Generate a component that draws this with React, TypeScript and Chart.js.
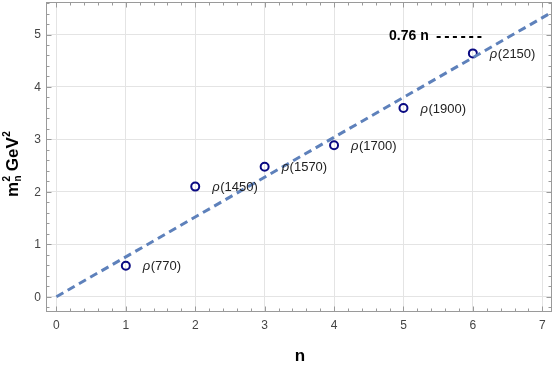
import React, { useEffect, useRef } from "react";
import { Chart, registerables } from "chart.js";
Chart.register(...registerables);

// ---- data ----
const stateN = [1, 2, 3, 4, 5, 6];
const massSq = [0.59, 2.1, 2.48, 2.89, 3.6, 4.64];
const stateLabels = ["770", "1450", "1570", "1700", "1900", "2150"];
const fitN = [0, 7.3];
const fitM = [0, 5.548];
const xTicks = [0, 1, 2, 3, 4, 5, 6, 7];
const yTicks = [0, 1, 2, 3, 4, 5];
const fitLabel = "0.76 n";
const fitDashes = "------";
const xTitle = "n";

const FONT = "'Liberation Sans', Arial, sans-serif";
const FRAME = "#9a9a9a";

const decorPlugin = {
  id: "decor",
  afterDraw(chart: any) {
    const ctx = chart.ctx;
    const { left, right, top, bottom } = chart.chartArea;
    const xs = chart.scales.x;
    const ys = chart.scales.y;
    ctx.save();
    // frame
    ctx.strokeStyle = FRAME;
    ctx.lineWidth = 1;
    ctx.strokeRect(Math.round(left) + 0.5, Math.round(top) + 0.5, Math.round(right - left) - 1, Math.round(bottom - top) - 1);
    // ticks
    ctx.beginPath();
    const bx = Math.round(bottom) - 0.5;
    const tx = Math.round(top) + 0.5;
    for (let k = Math.ceil(xs.min * 5); k <= Math.floor(xs.max * 5); k++) {
      const v = k / 5;
      const len = k % 5 === 0 ? 5 : 3;
      const px = Math.round(xs.getPixelForValue(v)) + 0.5;
      ctx.moveTo(px, bx);
      ctx.lineTo(px, bx - len);
      ctx.moveTo(px, tx);
      ctx.lineTo(px, tx + len);
    }
    const lx = Math.round(left) + 0.5;
    const rx = Math.round(right) - 0.5;
    for (let k = Math.ceil(ys.min * 5); k <= Math.floor(ys.max * 5); k++) {
      const v = k / 5;
      const len = k % 5 === 0 ? 5 : 3;
      const py = Math.round(ys.getPixelForValue(v)) + 0.5;
      ctx.moveTo(lx, py);
      ctx.lineTo(lx + len, py);
      ctx.moveTo(rx, py);
      ctx.lineTo(rx - len, py);
    }
    ctx.stroke();

    // tick labels
    ctx.fillStyle = "#444";
    ctx.font = `12px ${FONT}`;
    ctx.textBaseline = "middle";
    ctx.textAlign = "center";
    xTicks.forEach((v) => ctx.fillText(String(v), xs.getPixelForValue(v), bottom + 13.5));
    ctx.textAlign = "right";
    yTicks.forEach((v) => ctx.fillText(String(v), left - 5, ys.getPixelForValue(v) + 0.5));

    // point labels
    ctx.fillStyle = "#222";
    ctx.textBaseline = "middle";
    ctx.textAlign = "left";
    stateN.forEach((n, i) => {
      const px = xs.getPixelForValue(n) + 17;
      const py = ys.getPixelForValue(massSq[i]) + 1;
      ctx.font = `italic 13px ${FONT}`;
      ctx.fillText("ρ", px, py);
      const w = ctx.measureText("ρ").width;
      ctx.font = `13px ${FONT}`;
      ctx.fillText(`(${stateLabels[i]})`, px + w + 0.5, py);
    });

    // fit legend
    ctx.fillStyle = "#000";
    ctx.textBaseline = "alphabetic";
    ctx.font = `bold 14px ${FONT}`;
    ctx.fillText(fitLabel, 389, 40);
    ctx.font = `bold 16px ${FONT}`;
    (ctx as any).letterSpacing = "2.8px";
    ctx.fillText(fitDashes, 436, 40.5);
    (ctx as any).letterSpacing = "0px";

    // x title
    ctx.textAlign = "center";
    ctx.font = `bold 17px ${FONT}`;
    ctx.fillText(xTitle, 300, 361);

    // y title (rotated)
    ctx.save();
    ctx.translate(17.5, 197);
    ctx.rotate(-Math.PI / 2);
    ctx.textAlign = "left";
    ctx.font = `bold 17px ${FONT}`;
    ctx.fillText("m", 0, 0);
    let x = ctx.measureText("m").width + 0.5;
    ctx.font = `bold 10px ${FONT}`;
    ctx.fillText("2", x, -8);
    ctx.fillText("n", x, 3.5);
    x += Math.max(ctx.measureText("2").width, ctx.measureText("n").width) + 4;
    ctx.font = `bold 17px ${FONT}`;
    ctx.fillText("GeV", x, 0);
    x += ctx.measureText("GeV").width + 0.5;
    ctx.font = `bold 10px ${FONT}`;
    ctx.fillText("2", x, -8);
    ctx.restore();

    ctx.restore();
  },
};

export default function App() {
  const ref = useRef<HTMLCanvasElement | null>(null);
  useEffect(() => {
    document.body.style.margin = "0";
    const canvas = ref.current!;
    const chart = new Chart(canvas, {
      type: "scatter",
      data: {
        datasets: [
          {
            type: "line",
            data: fitN.map((n, i) => ({ x: n, y: fitM[i] })),
            borderColor: "rgb(94,129,187)",
            borderWidth: 3,
            borderDash: [8, 5],
            pointRadius: 0,
            fill: false,
          } as any,
          {
            data: stateN.map((n, i) => ({ x: n, y: massSq[i] })),
            borderColor: "#0a0a82",
            backgroundColor: "rgba(255,255,255,0)",
            borderWidth: 2,
            pointRadius: 4,
          },
        ],
      },
      options: {
        animation: false,
        responsive: false,
        devicePixelRatio: 1,
        layout: { autoPadding: false, padding: { left: 0, top: 2, right: 4, bottom: 0 } },
        plugins: { legend: { display: false }, tooltip: { enabled: false } },
        scales: {
          x: {
            type: "linear",
            min: -0.15,
            max: 7.14,
            afterBuildTicks: (s: any) => {
              s.ticks = xTicks.map((v) => ({ value: v }));
            },
            afterFit: (s: any) => {
              s.height = 55.7;
              s.paddingLeft = 0;
              s.paddingRight = 0;
            },
            grid: { color: "#e4e4e4", drawTicks: false },
            border: { display: false },
            ticks: { display: false },
          },
          y: {
            type: "linear",
            min: -0.297,
            max: 5.62,
            afterBuildTicks: (s: any) => {
              s.ticks = yTicks.map((v) => ({ value: v }));
            },
            afterFit: (s: any) => {
              s.width = 46;
              s.paddingTop = 0;
              s.paddingBottom = 0;
            },
            grid: { color: "#e4e4e4", drawTicks: false },
            border: { display: false },
            ticks: { display: false },
          },
        },
      },
      plugins: [decorPlugin],
    });
    return () => chart.destroy();
  }, []);
  return (
    <div style={{ width: 556, height: 368 }}>
      <canvas ref={ref} width={556} height={368} style={{ display: "block" }} />
    </div>
  );
}
